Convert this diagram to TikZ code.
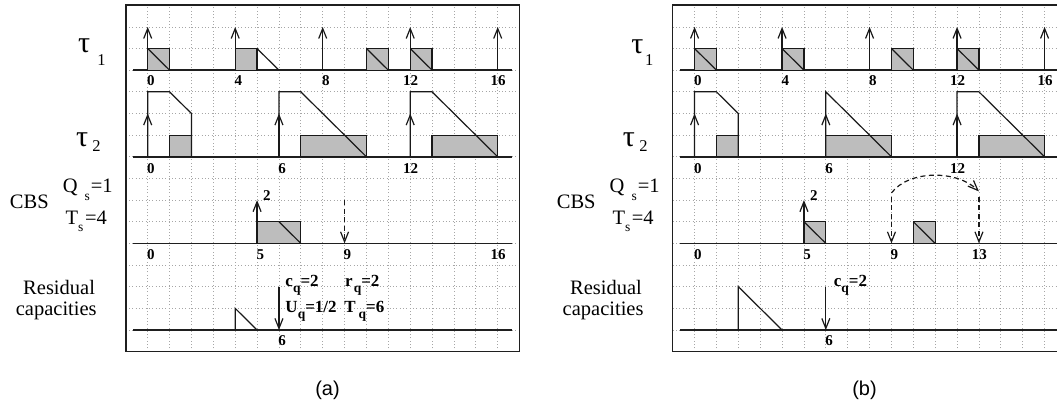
\documentclass[tikz,border=0pt]{standalone}
\usepackage{fontspec}
\setmainfont{Liberation Serif}
\newfontfamily\capsans{Liberation Sans}
\usetikzlibrary{arrows.meta}

\newcommand\lowsub[2][6pt]{\raisebox{-#1}{\fontsize{13.5}{13.5}\selectfont #2}}

\tikzset{
  gridline/.style={black!35, line width=0.7pt, dash pattern=on 1pt off 2.3pt},
  framebox/.style={black!88, line width=1.5pt},
  axisline/.style={black!88, line width=1.6pt},
  shapeline/.style={black!90, line width=1.2pt},
  jobbox/.style={fill=black!26, draw=black!90, line width=1.2pt},
  relarrow/.style={black!90, line width=1.2pt, -{Straight Barb[length=10pt,width=8pt]}},
  dasharrow/.style={relarrow, dash pattern=on 5pt off 3.5pt},
  ticklabel/.style={font=\fontsize{15}{16}\selectfont\bfseries, inner sep=0pt},
  rowlabel/.style={font=\fontsize{20.5}{22}\selectfont, inner sep=0pt},
  taulabel/.style={font=\fontsize{30}{31}\selectfont, inner sep=0pt},
  sublabel/.style={font=\fontsize{16.5}{17}\selectfont, inner sep=0pt},
  parlabel/.style={font=\fontsize{17}{18}\selectfont\bfseries, inner sep=0pt, anchor=base west},
  captionlabel/.style={font=\capsans\fontsize{20}{22}\selectfont, inner sep=0pt},
}

\begin{document}
\begin{tikzpicture}[x=21.875pt, y=21.65pt]
\useasboundingbox (-147.7pt,-74pt) rectangle (909.3pt,330pt);
\clip (-147.7pt,-74pt) rectangle (909.3pt,330pt);

% ---------- common background of both panels ----------
\foreach \p/\dx in {a/0, b/25} {
  \begin{scope}[xshift=\dx*21.875pt]
    \foreach \i in {0,...,16} \draw[gridline] (\i,-1) -- (\i,15);
    \foreach \j in {0,...,14} \draw[gridline] (-1,\j) -- (17,\j);
    \draw[framebox] (-1,-1) rectangle (17,15);
    \foreach \y in {0,4,8,12} \draw[axisline] (-0.65,\y) -- (16.65,\y);
    % row labels
    \node[taulabel] (\p-tautwo) at (-3.0,8.78) {τ};
    \node[sublabel] (\p-tautwosub) at (-2.34,8.5) {2};
    \node[rowlabel, anchor=base] (\p-cbs) at (-5.41,5.62) {CBS};
    \node[rowlabel, anchor=base east] (\p-qs) at (-1.59,6.37) {Q\hspace{7pt}\lowsub[8pt]{s}\hspace{1pt}=1};
    \node[rowlabel, anchor=base east] (\p-ts) at (-1.86,4.85) {T\lowsub[7pt]{s}\hspace{1.5pt}=4};
    \node[rowlabel, anchor=base] (\p-res) at (-4.05,1.62) {Residual};
    \node[rowlabel, anchor=base] (\p-cap) at (-4.18,0.65) {capacities};
    % tick labels shared by both panels
    \foreach \n/\o in {0/0.15,4/0.15,8/0.15,12/0.02,16/0.02}
      \node[ticklabel] (\p-one-\n) at (\n+\o,11.5) {\n};
    \foreach \n/\o in {0/0.15,6/0.15,12/0.02}
      \node[ticklabel] (\p-two-\n) at (\n+\o,7.45) {\n};
    \foreach \n/\o in {0/0.15,5/0.15,9/0.13}
      \node[ticklabel] (\p-cbs-\n) at (\n+\o,3.5) {\n};
    \node[ticklabel] (\p-res-6) at (6.15,-0.5) {6};
    \node[ticklabel] (\p-budget) at (5.45,6.2) {2};
  \end{scope}
}

% ---------- panel (a) ----------
\node[taulabel] (a-tauone) at (-2.91,13.12) {τ};
\node[sublabel] (a-tauonesub) at (-2.11,12.49) {1};
% tau1
\draw[jobbox] (0,12) rectangle (1,13);   \draw[shapeline] (0,13) -- (1,12);
\draw[jobbox] (4,12) rectangle (5,13);   \draw[shapeline] (5,13) -- (6,12);
\draw[jobbox] (10,12) rectangle (11,13); \draw[shapeline] (10,13) -- (11,12);
\draw[jobbox] (12,12) rectangle (13,13); \draw[shapeline] (12,13) -- (13,12);
% tau2
\draw[jobbox] (1,8) rectangle (2,9);
\draw[shapeline] (0,8) -- (0,11) -- (1,11) -- (2,10) -- (2,8);
\draw[jobbox] (7,8) rectangle (10,9);
\draw[shapeline] (6,8) -- (6,11) -- (7,11) -- (10,8);
\draw[jobbox] (13,8) rectangle (16,9);
\draw[shapeline] (12,8) -- (12,11) -- (13,11) -- (16,8);
% CBS
\draw[jobbox] (5,4) rectangle (7,5); \draw[shapeline] (6,5) -- (7,4);
\coordinate (a-dtop) at (9,6);
\coordinate (a-dbot) at (9,4);
\draw[dasharrow] (a-dtop) -- (a-dbot);
\node[ticklabel] (a-cbs-16) at (16.02,3.5) {16};
% residual capacities
\draw[shapeline] (4,0) -- (4,1) -- (5,0);
\node[parlabel] (a-cq) at (6.29,2.03) {c\lowsub{q}=2};
\node[parlabel] (a-rq) at (9.02,2.03) {r\hspace{1pt}\lowsub{q}=2};
\node[parlabel] (a-uq) at (6.29,0.83) {U\lowsub{q}=1/2};
\node[parlabel] (a-tq) at (8.98,0.83) {T\hspace{3pt}\lowsub{q}=6};

% ---------- panel (b) ----------
\begin{scope}[xshift=25*21.875pt]
\node[taulabel] (b-tauone) at (-2.61,13.07) {τ};
\node[sublabel] (b-tauonesub) at (-2.07,12.49) {1};
% tau1
\draw[jobbox] (0,12) rectangle (1,13);   \draw[shapeline] (0,13) -- (1,12);
\draw[jobbox] (4,12) rectangle (5,13);   \draw[shapeline] (4,13) -- (5,12);
\draw[jobbox] (9,12) rectangle (10,13);  \draw[shapeline] (9,13) -- (10,12);
\draw[jobbox] (12,12) rectangle (13,13); \draw[shapeline] (12,13) -- (13,12);
% tau2
\draw[jobbox] (1,8) rectangle (2,9);
\draw[shapeline] (0,8) -- (0,11) -- (1,11) -- (2,10) -- (2,8);
\draw[jobbox] (6,8) rectangle (9,9);
\draw[shapeline] (6,8) -- (6,11) -- (9,8);
\draw[jobbox] (13,8) rectangle (16,9);
\draw[shapeline] (12,8) -- (12,11) -- (13,11) -- (16,8);
% CBS
\draw[jobbox] (5,4) rectangle (6,5);   \draw[shapeline] (5,5) -- (6,4);
\draw[jobbox] (10,4) rectangle (11,5); \draw[shapeline] (10,5) -- (11,4);
\coordinate (b-dtop9) at (9,6.15);
\coordinate (b-dbot9) at (9,4);
\coordinate (b-dtop13) at (13,6.15);
\coordinate (b-dbot13) at (13,4);
\coordinate (b-cstart) at (9,6.33);
\coordinate (b-cend) at (13,6.4);
\draw[dasharrow] (b-dtop9) -- (b-dbot9);
\draw[dasharrow] (b-dtop13) -- (b-dbot13);
\draw[dasharrow] (b-cstart) .. controls (9.8,7.4) and (12,7.4) .. (b-cend);
\node[ticklabel] (b-cbs-13) at (13.02,3.5) {13};
% residual capacities
\draw[shapeline] (2,0) -- (2,2) -- (4,0);
\node[parlabel] (b-cq) at (6.36,2.0) {c\lowsub{q}=2};
\end{scope}

% ---------- release arrows (both panels) ----------
\foreach \p/\dx in {a/0, b/25} {
  \begin{scope}[xshift=\dx*21.875pt]
    \foreach \t in {0,4,8,12,16} \draw[relarrow] (\t,12) -- (\t,14);
    \foreach \t in {0,6,12} \draw[relarrow] (\t,8) -- (\t,10);
    \draw[relarrow] (5,4) -- (5,6);
    \draw[relarrow] (6,2) -- (6,0);
  \end{scope}
}

% captions
\node[captionlabel] (cap-a) at (8.22,-2.77) {(a)};
\node[captionlabel] (cap-b) at (32.77,-2.77) {(b)};
\end{tikzpicture}
\end{document}
